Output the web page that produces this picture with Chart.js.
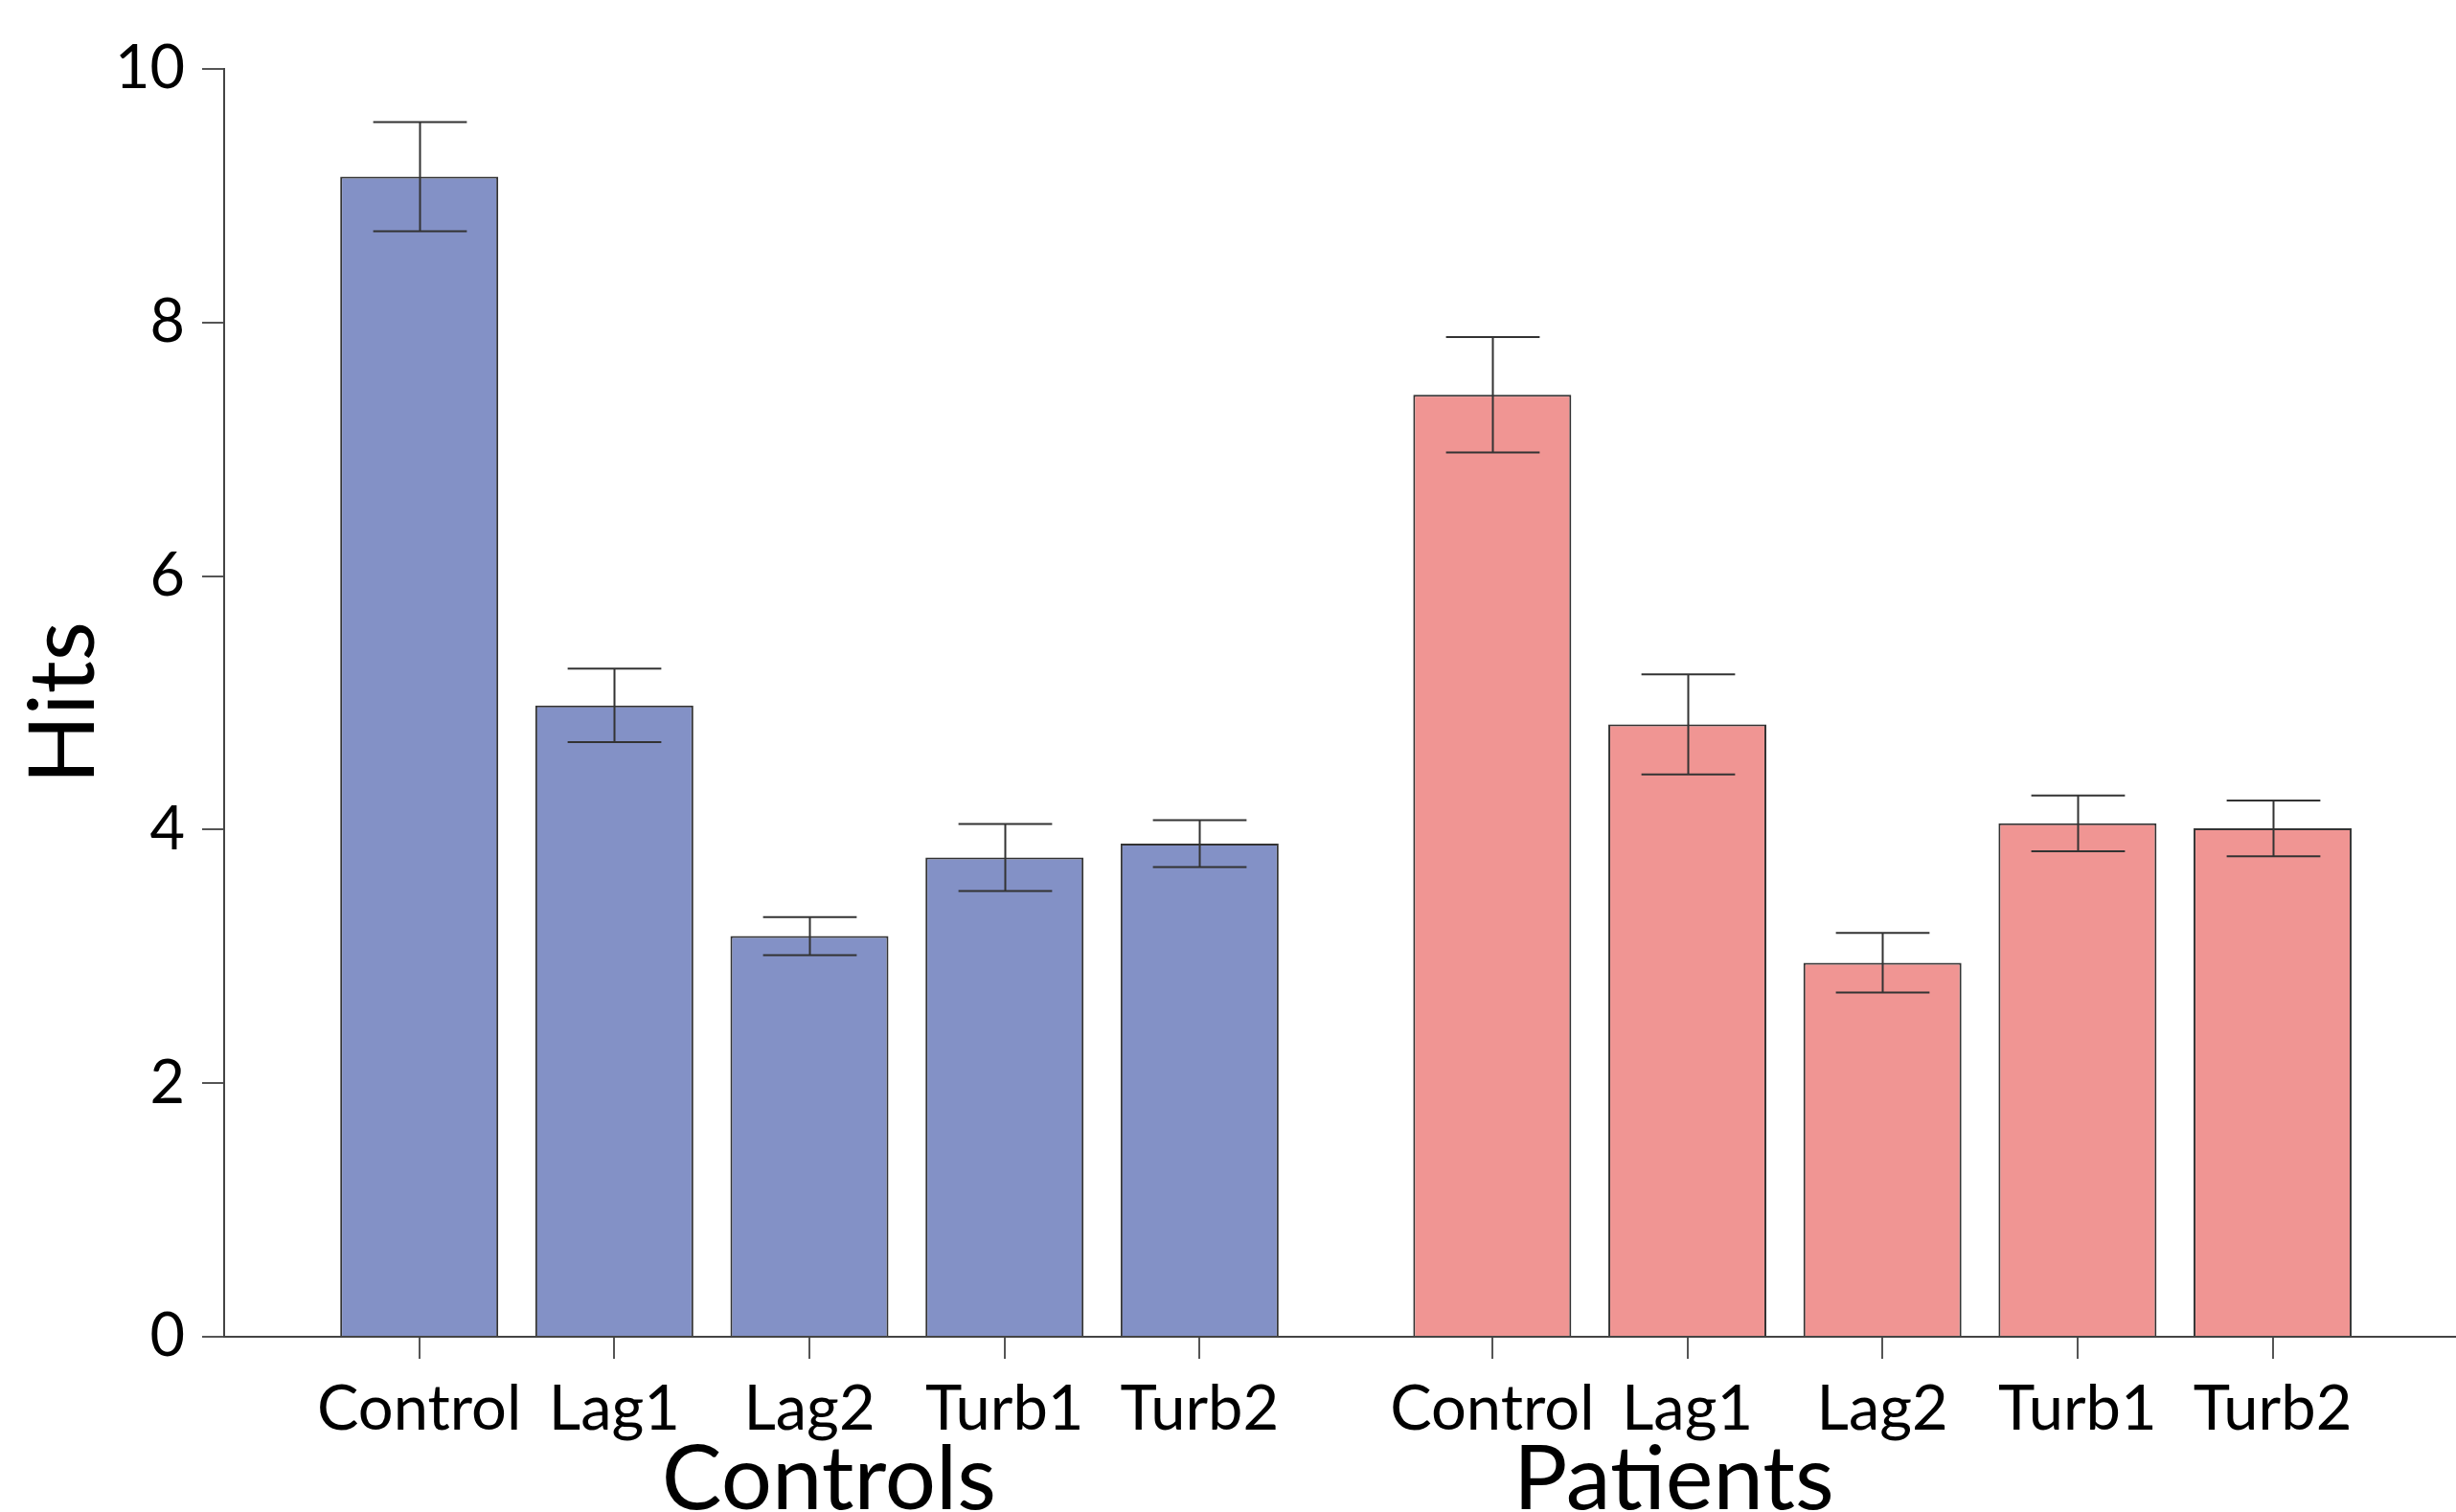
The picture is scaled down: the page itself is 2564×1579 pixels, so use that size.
<!DOCTYPE html>
<html>
<head>
<meta charset="utf-8">
<script src="https://cdn.jsdelivr.net/npm/chart.js@4.4.0/dist/chart.umd.min.js"></script>
<style>
  html, body { margin: 0; padding: 0; background: #fff; }
  #wrap { width: 2564px; height: 1579px; position: relative; }
</style>
</head>
<body>
<div id="wrap"><canvas id="chart"></canvas></div>
<script>
const conditions = ['Control', 'Lag1', 'Lag2', 'Turb1', 'Turb2']
const groups = ['Controls', 'Patients']
const controlsHits = [9.15, 4.98, 3.16, 3.78, 3.89]
const controlsErr = [0.43, 0.29, 0.15, 0.265, 0.185]
const patientsHits = [7.43, 4.83, 2.95, 4.05, 4.01]
const patientsErr = [0.455, 0.395, 0.235, 0.22, 0.22]
const yTicks = [0, 2, 4, 6, 8, 10]

const FONT = 'Lato'
// second group starts 1.5 slots after the first one ends
const GROUP_STEP = 5.5
const slot = (g, i) => 1 + g * GROUP_STEP + i

const tickSlots = []
const tickNames = {}
groups.forEach((g, gi) => {
    conditions.forEach((c, i) => {
        tickSlots.push(slot(gi, i))
        tickNames[slot(gi, i)] = c
    })
})

function toPoints(values, g){
    return values.map((v, i) => ({ x: slot(g, i), y: v }))
}

const errorBars = {
    id: 'errorBars',
    afterDatasetsDraw(chart){
        const { ctx } = chart
        const xs = chart.scales.x, ys = chart.scales.y
        ctx.save()
        ctx.strokeStyle = '#333'
        ctx.lineWidth = 2
        chart.data.datasets.forEach(ds => {
            ds.data.forEach((p, i) => {
                const e = ds.errors[i]
                const cx = Math.round(xs.getPixelForValue(p.x)) + 0.5
                const half = xs.getPixelForValue(p.x + 0.24) - xs.getPixelForValue(p.x)
                const top = ys.getPixelForValue(p.y + e)
                const bot = ys.getPixelForValue(p.y - e)
                ctx.beginPath()
                ctx.moveTo(cx, top); ctx.lineTo(cx, bot)
                ctx.moveTo(cx - half, top); ctx.lineTo(cx + half, top)
                ctx.moveTo(cx - half, bot); ctx.lineTo(cx + half, bot)
                ctx.stroke()
            })
        })
        ctx.restore()
    }
}

// big group names under the tick labels
const groupLabels = {
    id: 'groupLabels',
    afterDraw(chart, args, opts){
        const { ctx, chartArea } = chart
        const xs = chart.scales.x
        ctx.save()
        ctx.fillStyle = '#000'
        ctx.font = opts.size + 'px ' + FONT
        ctx.textAlign = 'center'
        ctx.textBaseline = 'alphabetic'
        groups.forEach((g, gi) => {
            ctx.fillText(g, xs.getPixelForValue(opts.at[gi]), chartArea.bottom + opts.offset)
        })
        ctx.restore()
    }
}

const chart = new Chart(document.getElementById('chart'), {
    type: 'bar',
    data: {
        datasets: [
            {
                label: groups[0],
                data: toPoints(controlsHits, 0),
                errors: controlsErr,
                backgroundColor: '#8391c6',
                borderColor: '#333',
                borderWidth: 2,
                grouped: false,
                barPercentage: 0.81,
                categoryPercentage: 1
            },
            {
                label: groups[1],
                data: toPoints(patientsHits, 1),
                errors: patientsErr,
                backgroundColor: '#f09593',
                borderColor: '#333',
                borderWidth: 2,
                grouped: false,
                barPercentage: 0.81,
                categoryPercentage: 1
            }
        ]
    },
    options: {
        responsive: true,
        maintainAspectRatio: false,
        animation: false,
        layout: { padding: { top: 72, right: 0, bottom: 0, left: 0 } },
        plugins: {
            legend: { display: false },
            tooltip: { enabled: false },
            groupLabels: { at: [3.1, 7.43], size: 94, offset: 180 }
        },
        scales: {
            x: {
                type: 'linear',
                min: 0,
                max: 11.44,
                offset: false,
                afterBuildTicks: s => { s.ticks = tickSlots.map(v => ({ value: v })) },
                afterFit: s => { s.height = 183 },
                ticks: {
                    callback: v => tickNames[v],
                    autoSkip: false,
                    maxRotation: 0,
                    minRotation: 0,
                    padding: 14,
                    color: '#000',
                    font: { family: FONT, size: 65 }
                },
                grid: { offset: false, drawOnChartArea: false, tickLength: 23, color: '#555', lineWidth: 2 },
                border: { color: '#444', width: 2 }
            },
            y: {
                min: 0,
                max: 10,
                afterBuildTicks: s => { s.ticks = yTicks.map(v => ({ value: v })) },
                afterFit: s => { s.width = 234 },
                ticks: {
                    padding: 18,
                    color: '#000',
                    font: { family: FONT, size: 63 }
                },
                grid: { drawOnChartArea: false, tickLength: 23, color: '#555', lineWidth: 2 },
                border: { color: '#444', width: 2 },
                title: {
                    display: true,
                    text: 'Hits',
                    color: '#000',
                    font: { family: FONT, size: 95 },
                    padding: { top: 10, bottom: 0 }
                }
            }
        }
    },
    plugins: [errorBars, groupLabels]
})
</script>
</body>
</html>
